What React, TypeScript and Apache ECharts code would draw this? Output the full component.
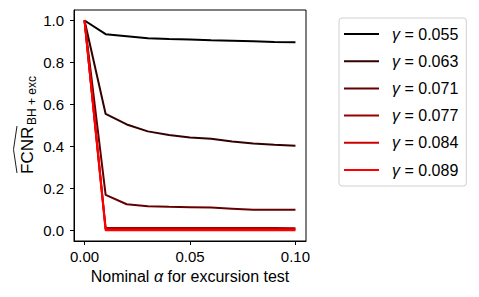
import React, { useEffect, useRef } from "react";
import * as echarts from "echarts";

const alphas = [0, 0.01, 0.02, 0.03, 0.04, 0.05, 0.06, 0.07, 0.08, 0.09, 0.1];
const gammaLabels = ["0.055", "0.063", "0.071", "0.077", "0.084", "0.089"];
const colors = ["#000000", "#330000", "#660000", "#990000", "#cc0000", "#ff0000"];
const s055 = [1.0, 0.935, 0.925, 0.915, 0.912, 0.91, 0.906, 0.904, 0.901, 0.898, 0.897];
const s063 = [1.0, 0.555, 0.505, 0.472, 0.455, 0.443, 0.437, 0.424, 0.414, 0.408, 0.403];
const s071 = [1.0, 0.17, 0.125, 0.116, 0.113, 0.111, 0.109, 0.104, 0.099, 0.099, 0.099];
const s077 = [1.0, 0.012, 0.012, 0.012, 0.012, 0.012, 0.012, 0.012, 0.012, 0.012, 0.011];
const s084 = [1.0, 0.006, 0.006, 0.006, 0.006, 0.006, 0.006, 0.006, 0.006, 0.006, 0.006];
const s089 = [1.0, 0.001, 0.001, 0.001, 0.001, 0.001, 0.001, 0.001, 0.001, 0.001, 0.001];
const seriesValues = [s055, s063, s071, s077, s084, s089];
const xTicks = [0, 0.05, 0.1];
const yTicks = [0, 0.2, 0.4, 0.6, 0.8, 1.0];

const FONT = "Liberation Sans";

export default function App() {
  const ref = useRef<HTMLDivElement>(null);
  useEffect(() => {
    if (!ref.current) return;
    const chart = echarts.init(ref.current, null, { renderer: "svg" });
    const names = gammaLabels.map((g) => `{i|γ} = ${g}`);
    chart.setOption({
      animation: false,
      backgroundColor: "#ffffff",
      textStyle: { fontFamily: FONT },
      grid: {
        left: 74,
        top: 10,
        width: 232,
        height: 231,
        show: true,
        borderColor: "#000",
        borderWidth: 1,
        containLabel: false,
      },
      legend: {
        left: 339,
        top: 18,
        orient: "vertical",
        icon: "rect",
        itemWidth: 35,
        itemHeight: 2,
        itemGap: 9.2,
        padding: [7, 8, 7, 5],
        borderColor: "#d0d0d0",
        borderWidth: 1,
        borderRadius: 3,
        data: names,
        textStyle: {
          fontFamily: FONT,
          fontSize: 16,
          color: "#000",
          lineHeight: 18,
          padding: [0, 0, 0, 8],
          rich: {
            i: { fontFamily: FONT, fontStyle: "italic", fontSize: 16, color: "#000" },
          },
        },
      },
      xAxis: {
        type: "value",
        min: -0.005,
        max: 0.105,
        splitLine: { show: false },
        axisLine: { show: true, onZero: false, lineStyle: { color: "#000", width: 1 } },
        axisTick: { show: true, length: 4, lineStyle: { color: "#000" }, customValues: xTicks },
        axisLabel: {
          customValues: xTicks,
          color: "#000",
          fontSize: 15,
          fontFamily: FONT,
          margin: 8,
          formatter: (v: number) => v.toFixed(2),
        },
        name: "Nominal {i|α} for excursion test",
        nameLocation: "middle",
        nameGap: 27,
        nameTextStyle: {
          color: "#000",
          fontSize: 16,
          fontFamily: FONT,
          rich: { i: { fontStyle: "italic", fontSize: 16, fontFamily: FONT, color: "#000" } },
        },
      },
      yAxis: {
        type: "value",
        min: -0.05,
        max: 1.05,
        splitLine: { show: false },
        axisLine: { show: true, onZero: false, lineStyle: { color: "#000", width: 1 } },
        axisTick: { show: true, length: 4, lineStyle: { color: "#000" }, customValues: yTicks },
        axisLabel: {
          customValues: yTicks,
          color: "#000",
          fontSize: 15,
          fontFamily: FONT,
          margin: 10,
          formatter: (v: number) => v.toFixed(1),
        },
      },
      graphic: [
        {
          type: "group",
          x: 32,
          y: 174,
          rotation: Math.PI / 2,
          children: [
            {
              type: "text",
              x: 0,
              y: 3.5,
              style: {
                text: "FCNR",
                fontFamily: FONT,
                fontSize: 17,
                fill: "#000",
                verticalAlign: "bottom",
                align: "left",
              },
            },
            {
              type: "text",
              x: 49,
              y: 5.5,
              style: {
                text: "BH + exc",
                fontFamily: FONT,
                fontSize: 12,
                fill: "#000",
                verticalAlign: "bottom",
                align: "left",
              },
            },
            {
              type: "polyline",
              shape: { points: [[1, -15], [24.5, -18.5], [48, -15]] },
              style: { stroke: "#000", lineWidth: 0.9, fill: "none" },
            },
          ],
        },
      ],
      series: seriesValues.map((vals, k) => ({
        type: "line",
        name: names[k],
        data: alphas.map((a, i) => [a, vals[i]]),
        showSymbol: false,
        symbol: "none",
        lineStyle: { color: colors[k], width: 2 },
        itemStyle: { color: colors[k] },
      })),
    });
    return () => chart.dispose();
  }, []);
  return (
    <div
      ref={ref}
      style={{ position: "absolute", left: 0, top: 0, width: 479, height: 297 }}
    />
  );
}
